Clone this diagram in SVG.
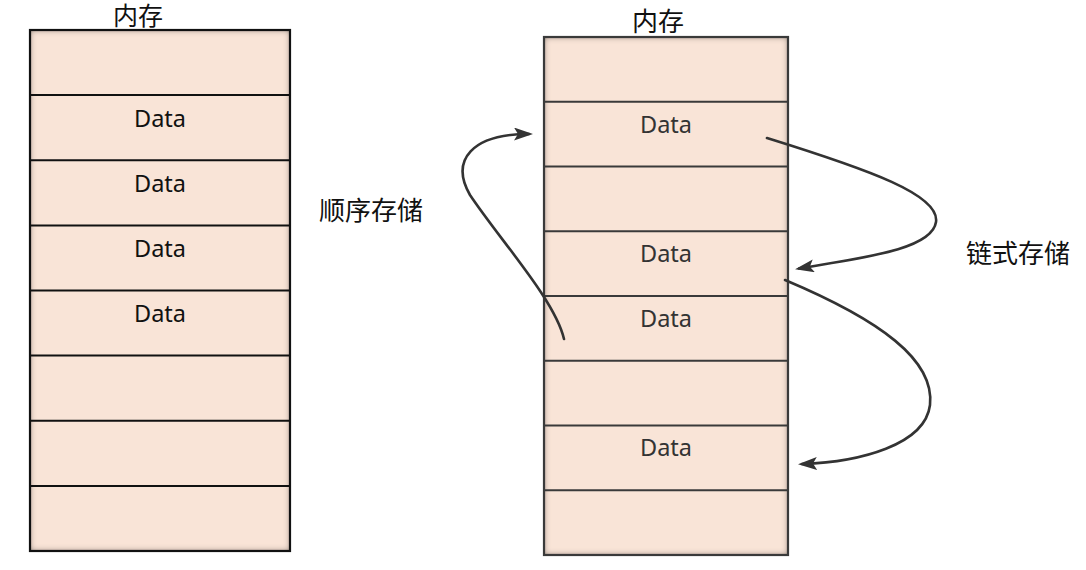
<svg xmlns="http://www.w3.org/2000/svg" width="1086" height="570" viewBox="0 0 1086 570">
  <style>
    .cell { fill: #f9e4d7; }
    .sep-l { stroke: #111; stroke-width: 2; }
    .sep-r { stroke: #3a3a3a; stroke-width: 2; }
    .border-l { fill: none; stroke: #111; stroke-width: 2.2; }
    .border-r { fill: none; stroke: #3a3a3a; stroke-width: 2.2; }
    .data { font-family: "Noto Sans", "Open Sans", sans-serif; font-size: 23.5px; text-anchor: middle; }
    .data-l { fill: #111; }
    .data-r { fill: #333; }
    .cjk { font-family: "Noto Sans CJK SC", "Noto Sans", sans-serif; font-size: 26px; fill: #111; }
    .conn { fill: none; stroke: #333; stroke-width: 2.6; stroke-linecap: round; }
  </style>
  <defs>
    <filter id="inset" x="-10%" y="-10%" width="120%" height="120%">
      <feFlood flood-color="#000" flood-opacity="0.9" result="f"/>
      <feComposite in="f" in2="SourceAlpha" operator="out" result="outside"/>
      <feGaussianBlur in="outside" stdDeviation="3" result="blur"/>
      <feOffset in="blur" dx="0" dy="-0.5" result="off"/>
      <feComposite in="off" in2="SourceAlpha" operator="in" result="shadow"/>
      <feMerge>
        <feMergeNode in="SourceGraphic"/>
        <feMergeNode in="shadow"/>
      </feMerge>
    </filter>
    <marker id="arrow" markerUnits="userSpaceOnUse" markerWidth="20" markerHeight="14" refX="15" refY="6.5" orient="auto">
      <path d="M0,0 L19,6.5 L0,13 L4,6.5 z" fill="#333"/>
    </marker>
  </defs>

  <!-- Left memory: sequential storage -->
  <g id="memory-left">
    <text class="cjk" x="138" y="25" text-anchor="middle" style="font-size:25px">内存</text>
    <rect class="cell" x="30" y="30" width="260" height="521" filter="url(#inset)"/>
    <line class="sep-l" x1="30" y1="95.1" x2="290" y2="95.1"/>
    <line class="sep-l" x1="30" y1="160.3" x2="290" y2="160.3"/>
    <line class="sep-l" x1="30" y1="225.4" x2="290" y2="225.4"/>
    <line class="sep-l" x1="30" y1="290.5" x2="290" y2="290.5"/>
    <line class="sep-l" x1="30" y1="355.6" x2="290" y2="355.6"/>
    <line class="sep-l" x1="30" y1="420.8" x2="290" y2="420.8"/>
    <line class="sep-l" x1="30" y1="485.9" x2="290" y2="485.9"/>
    <rect class="border-l" x="30" y="30" width="260" height="521"/>
    <text class="data data-l" x="160" y="127">Data</text>
    <text class="data data-l" x="160" y="192">Data</text>
    <text class="data data-l" x="160" y="257">Data</text>
    <text class="data data-l" x="160" y="322">Data</text>
  </g>

  <g id="label-sequential">
    <text class="cjk" x="319" y="220">顺序存储</text>
  </g>

  <!-- Right memory: linked storage -->
  <g id="memory-right">
    <text class="cjk" x="658" y="31" text-anchor="middle">内存</text>
    <rect class="cell" x="544" y="37" width="244" height="518" filter="url(#inset)"/>
    <line class="sep-r" x1="544" y1="101.8" x2="788" y2="101.8"/>
    <line class="sep-r" x1="544" y1="166.5" x2="788" y2="166.5"/>
    <line class="sep-r" x1="544" y1="231.3" x2="788" y2="231.3"/>
    <line class="sep-r" x1="544" y1="296" x2="788" y2="296"/>
    <line class="sep-r" x1="544" y1="360.8" x2="788" y2="360.8"/>
    <line class="sep-r" x1="544" y1="425.5" x2="788" y2="425.5"/>
    <line class="sep-r" x1="544" y1="490.3" x2="788" y2="490.3"/>
    <rect class="border-r" x="544" y="37" width="244" height="518"/>
    <text class="data data-r" x="666" y="133">Data</text>
    <text class="data data-r" x="666" y="262">Data</text>
    <text class="data data-r" x="666" y="327">Data</text>
    <text class="data data-r" x="666" y="456">Data</text>
  </g>

  <g id="label-linked">
    <text class="cjk" x="966" y="263">链式存储</text>
  </g>

  <!-- Connectors -->
  <g id="connectors">
    <path class="conn" d="M564 339 C555 300, 500 240, 470 195 C450 160, 472 134, 529 134" marker-end="url(#arrow)"/>
    <path class="conn" d="M767 138 C870 170, 940 195, 936 222 C932 250, 860 258, 799 268.5" marker-end="url(#arrow)"/>
    <path class="conn" d="M785 280 C880 320, 935 360, 930 405 C925 445, 860 462, 802 464" marker-end="url(#arrow)"/>
  </g>
</svg>
